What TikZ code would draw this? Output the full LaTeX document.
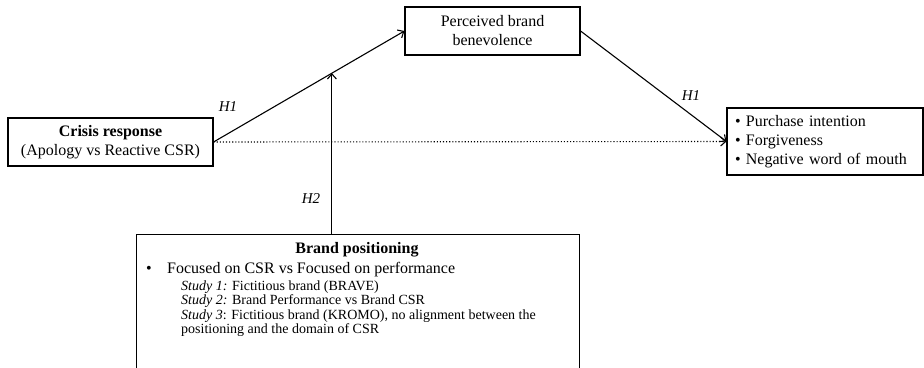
\documentclass[tikz,border=0pt]{standalone}
\usepackage{fontspec}
\setmainfont{Liberation Serif}
\usetikzlibrary{calc,arrows.meta}

\tikzset{
  box/.style={draw, line width=1.1pt, inner sep=0pt, align=center,
    font=\fontsize{16}{19}\selectfont},
  hyp/.style={inner sep=0pt, font=\fontsize{15}{18}\selectfont\itshape},
  link/.style={->, line width=1.1pt},
  txt/.style={anchor=base west, inner sep=0pt, font=\fontsize{16}{19}\selectfont},
  studytxt/.style={anchor=base west, inner sep=0pt, font=\fontsize{14}{16}\selectfont},
}

\begin{document}
\begin{tikzpicture}[x=1pt,y=-1pt,>={Straight Barb[length=5pt,width=9pt]}]
    \useasboundingbox (0,0) rectangle (924,367);
    \clip (0,0) rectangle (924,367);
    % boxes
    \node[box, minimum width=205pt, minimum height=48pt] (crisis) at (110.5,142)
        {\textbf{Crisis response}\\(Apology vs Reactive CSR)};
    \node[box, minimum width=175pt, minimum height=48pt] (benev) at (492.5,31)
        {Perceived brand\\benevolence};
    \node[box, align=left, inner xsep=8pt, text width=180pt, minimum height=67pt] (outcomes) at (825,141.5)
        {\textbullet\ Purchase intention\\\textbullet\ Forgiveness\\\textbullet\ Negative word of mouth};
    \node[box, anchor=north west, minimum width=443pt, minimum height=160pt] (positioning) at (136,234) {};
    % text of the positioning box
    \node[txt, anchor=base, font=\fontsize{16}{19}\selectfont\bfseries] (postitle) at (357,253) {Brand positioning};
    \node[txt] (posbullet) at (146,273) {\textbullet};
    \node[txt] (posline) at (167,273) {Focused on CSR vs Focused on performance};
    \node[studytxt] (study1) at (181,290) {\textit{Study 1:} Fictitious brand (BRAVE)};
    \node[studytxt] (study2) at (181,304.5) {\textit{Study 2:} Brand Performance vs Brand CSR};
    \node[studytxt] (study3) at (181,319) {\textit{Study 3}: Fictitious brand (KROMO), no alignment between the};
    \node[studytxt] (study3b) at (181,333.5) {positioning and the domain of CSR};
    % paths
    \draw[link] (crisis.east) -- (benev.west);
    \draw[link] (benev.east) -- (outcomes.west);
    \draw[link, dotted] (crisis.east) -- (outcomes.west);
    \coordinate (meet) at ($(crisis.east)!0.62!(benev.west)$);
    \draw[link] (meet |- positioning.north) -- (meet);
    % labels
    \node[hyp] (h1left) at (228,107) {H1};
    \node[hyp] (h1right) at (691,96) {H1};
    \node[hyp] (h2) at (311,199) {H2};
\end{tikzpicture}
\end{document}
